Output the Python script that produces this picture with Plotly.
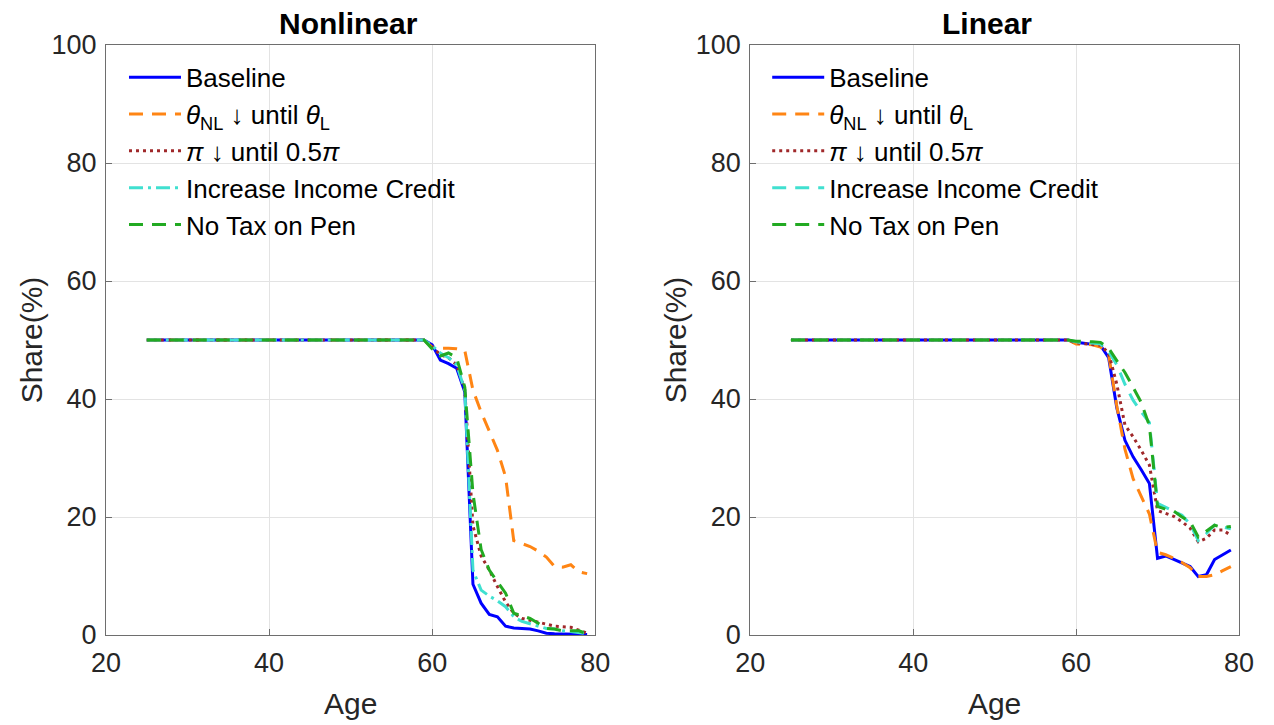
import plotly.graph_objects as go

# ---------------- data ----------------
ages = list(range(25, 80))

# ages 25..58 are all on the 50% plateau
plateau = [50.0] * 34

# Nonlinear panel (ages 59..79)
nl_baseline = plateau + [50.0, 49.2, 46.6, 46.0, 45.2, 41.2, 8.6, 5.4, 3.5, 3.1, 1.5,
                         1.2, 1.1, 1.0, 0.7, 0.3, 0.2, 0.2, 0.1, 0.1, 0.1]
nl_theta = plateau + [50.0, 48.8, 48.6, 48.6, 48.5, 48.2, 41.5, 37.8, 34.7, 31.3, 26.8,
                      16.0, 15.5, 15.0, 14.2, 13.2, 11.6, 11.5, 11.9, 10.7, 10.4]
nl_pi = plateau + [50.0, 48.8, 47.5, 47.0, 45.8, 41.5, 18.5, 13.4, 11.0, 8.2, 5.6,
                   3.7, 2.8, 2.5, 2.2, 1.9, 1.5, 1.4, 1.3, 0.8, 0.3]
nl_credit = plateau + [50.0, 49.0, 47.8, 47.0, 45.8, 41.5, 11.0, 7.6, 6.6, 5.8, 4.8,
                       3.1, 2.3, 1.9, 1.5, 1.1, 1.0, 0.7, 0.6, 0.4, 0.2]
nl_notax = plateau + [50.0, 48.5, 47.3, 47.8, 47.0, 42.0, 24.0, 14.5, 11.0, 9.0, 7.1,
                      3.7, 3.3, 2.8, 2.0, 1.1, 1.0, 0.7, 0.7, 0.7, 0.2]

# Linear panel (ages 59..79)
l_baseline = plateau + [50.0, 49.6, 49.4, 49.3, 49.1, 47.0, 38.5, 33.0, 30.2, 28.0, 25.7,
                        13.0, 13.4, 12.8, 12.2, 11.6, 9.9, 10.2, 12.8, 13.6, 14.4]
l_theta = plateau + [50.0, 49.3, 49.2, 49.2, 48.8, 47.5, 38.8, 31.5, 26.5, 23.5, 20.5,
                     14.0, 13.6, 13.0, 12.3, 11.4, 9.9, 9.9, 10.2, 10.9, 11.6]
l_pi = plateau + [50.0, 49.5, 49.4, 49.3, 49.1, 47.8, 42.5, 35.6, 33.6, 31.3, 28.8,
                  21.1, 20.6, 20.1, 19.2, 18.1, 15.8, 16.4, 17.8, 17.8, 16.9]
l_credit = plateau + [50.0, 49.7, 49.5, 49.5, 49.3, 48.0, 45.8, 42.5, 39.8, 37.8, 36.0,
                      22.3, 21.6, 21.0, 20.3, 18.8, 16.0, 17.2, 18.6, 18.3, 18.0]
l_notax = plateau + [50.0, 49.8, 49.8, 49.7, 49.6, 48.6, 46.5, 44.5, 42.0, 39.4, 35.5,
                     21.8, 21.3, 21.0, 20.0, 19.2, 16.6, 17.6, 18.6, 18.2, 18.4]

names = ["Baseline",
         "<i>θ</i><sub>NL</sub> ↓ until <i>θ</i><sub>L</sub>",
         "<i>π</i> ↓ until 0.5<i>π</i>",
         "Increase Income Credit",
         "No Tax on Pen"]
colors = ["#0000FF", "#FF8514", "#A0282A", "#40E0D0", "#22AA22"]

x_ticks = [20, 40, 60, 80]
y_ticks = [0, 20, 40, 60, 80, 100]

FONT = "Liberation Sans, Arial, Helvetica, sans-serif"
W = 3
dash_nl = ["solid", "14px,9px", "3px,4px", "14px,5px,3px,5px", "14px,9px"]
dash_l = ["solid", "14px,9px", "3px,4px", "14px,9px", "14px,9px"]

fig = go.Figure()

left_series = [nl_baseline, nl_theta, nl_pi, nl_credit, nl_notax]
right_series = [l_baseline, l_theta, l_pi, l_credit, l_notax]

for i, ys in enumerate(left_series):
    fig.add_trace(go.Scatter(x=ages, y=ys, mode="lines", name=names[i],
                             line=dict(color=colors[i], width=W, dash=dash_nl[i]),
                             xaxis="x", yaxis="y", legend="legend"))
for i, ys in enumerate(right_series):
    fig.add_trace(go.Scatter(x=ages, y=ys, mode="lines", name=names[i],
                             line=dict(color=colors[i], width=W, dash=dash_l[i]),
                             xaxis="x2", yaxis="y2", legend="legend2"))

axis_common = dict(
    showgrid=True, gridcolor="#e3e3e3", gridwidth=1,
    zeroline=False, showline=True, linecolor="#6e6e6e", linewidth=1, mirror=True,
    ticks="inside", ticklen=6, tickcolor="#6e6e6e",
    tickfont=dict(family=FONT, size=27, color="#262626"),
    automargin=False,
)

xa = dict(axis_common, range=[20, 80], tickvals=x_ticks, ticklabelstandoff=4,
          title=dict(text="Age", font=dict(family=FONT, size=30, color="#262626"), standoff=15))
ya = dict(axis_common, range=[0, 100], tickvals=y_ticks, ticklabelstandoff=3,
          title=dict(text="Share(%)", font=dict(family=FONT, size=30, color="#262626"), standoff=0))

# page has an 8px body margin, so shift everything up/left by 8px
ML, MR, MT, MB = 97.5, 43, 37, 98
PW = 1274 - ML - MR
l_dom = [0, 489.5 / PW]
r_dom = [644.5 / PW, 1]

legend_common = dict(
    font=dict(family=FONT, size=26, color="#000000"),
    bgcolor="rgba(0,0,0,0)", borderwidth=0,
    yanchor="top", xanchor="left", itemwidth=52,
    tracegroupgap=0,
)

fig.update_layout(
    width=1274, height=725,
    margin=dict(l=ML, r=MR, t=MT, b=MB),
    paper_bgcolor="white", plot_bgcolor="white",
    font=dict(family=FONT, color="#262626"),
    xaxis=dict(xa, domain=l_dom, anchor="y"),
    yaxis=dict(ya, domain=[0, 1], anchor="x"),
    xaxis2=dict(xa, domain=r_dom, anchor="y2"),
    yaxis2=dict(ya, domain=[0, 1], anchor="x2"),
    legend=dict(legend_common, x=18 / PW, y=0.985),
    legend2=dict(legend_common, x=(644.5 + 17) / PW, y=0.985),
    showlegend=True,
    annotations=[
        dict(text="<b>Nonlinear</b>", x=(l_dom[0] + l_dom[1]) / 2 - 2 / PW, y=1,
             xref="paper", yref="paper", xanchor="center",
             yanchor="bottom", yshift=3, showarrow=False,
             font=dict(family=FONT, size=30, color="#000000")),
        dict(text="<b>Linear</b>", x=(r_dom[0] + r_dom[1]) / 2 - 8 / PW, y=1,
             xref="paper", yref="paper", xanchor="center",
             yanchor="bottom", yshift=3, showarrow=False,
             font=dict(family=FONT, size=30, color="#000000")),
    ],
)

fig.write_html("out.html")
